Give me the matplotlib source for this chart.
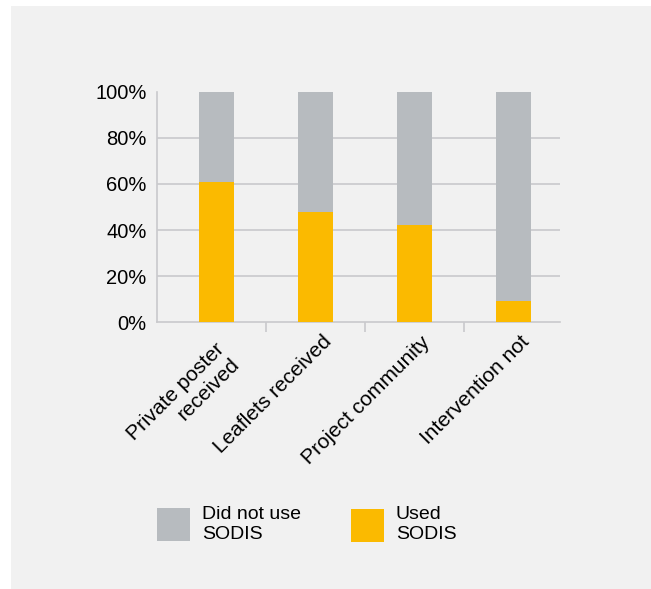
import matplotlib.pyplot as plt
import matplotlib.transforms as mtransforms
from matplotlib.patches import Rectangle

plt.rcParams['font.family'] = ['Liberation Sans', 'DejaVu Sans']

# data
categories = ['Private poster\nreceived', 'Leaflets received', 'Project community', 'Intervention not']
used_sodis = [61, 48, 42, 9]
not_used_sodis = [39, 52, 58, 91]
y_ticks = [0, 20, 40, 60, 80, 100]

grey = '#b7bbbf'
orange = '#fbba00'
line_col = '#c9c9cc'
fs = 14.5

W, H = 651, 589
fig = plt.figure(figsize=(W / 100, H / 100), dpi=100)
fig.patch.set_facecolor('white')

# light textured panel behind everything
fig.add_artist(Rectangle((11 / W, 0), 1 - 11 / W, 1 - 6 / H, transform=fig.transFigure,
                         facecolor='#f1f1f1', edgecolor='none', zorder=-10))

ax = fig.add_axes([157 / W, (H - 322) / H, (560 - 157) / W, 230 / H])
ax.set_facecolor('none')

x = list(range(len(categories)))
ax.bar(x, used_sodis, width=0.354, color=orange, zorder=3)
ax.bar(x, not_used_sodis, width=0.354, bottom=used_sodis, color=grey, zorder=3)

ax.set_xlim(-0.596, 3.47)
ax.set_ylim(0, 100)

for s in ['top', 'right']:
    ax.spines[s].set_visible(False)
for s in ['left', 'bottom']:
    ax.spines[s].set_color(line_col)
    ax.spines[s].set_linewidth(1.2)

ax.set_yticks(y_ticks)
ax.set_yticklabels([f'{v}%' for v in y_ticks], fontsize=fs)
ax.tick_params(axis='y', length=0, pad=7.5)
for v in y_ticks[1:-1]:
    ax.axhline(v, color=line_col, lw=1.2, zorder=1)

# separators between categories
ax.set_xticks([0.5, 1.5, 2.5])
ax.set_xticklabels([])
ax.tick_params(axis='x', length=7, width=1.2, color=line_col, direction='out')

for i, lab in enumerate(categories):
    n = lab.count('\n')
    off = mtransforms.ScaledTranslation(13 / 100, -(17 + 15 * n) / 100, fig.dpi_scale_trans)
    ax.text(i, 0, lab, transform=ax.get_xaxis_transform() + off, rotation=45,
            rotation_mode='anchor', ha='right', va='center', multialignment='right',
            fontsize=15)

# legend
fig.add_artist(Rectangle((156.7 / W, 0.082), 33.3 / W, 0.0555, transform=fig.transFigure,
                         facecolor=grey, edgecolor='none'))
fig.text(201.7 / W, 0.1098, 'Did not use\nSODIS', fontsize=14, va='center', ha='left')
fig.add_artist(Rectangle((351 / W, 0.0803), 33.3 / W, 0.0555, transform=fig.transFigure,
                         facecolor=orange, edgecolor='none'))
fig.text(395.7 / W, 0.1098, 'Used\nSODIS', fontsize=14, va='center', ha='left')

fig.savefig('out.png', dpi=100)
